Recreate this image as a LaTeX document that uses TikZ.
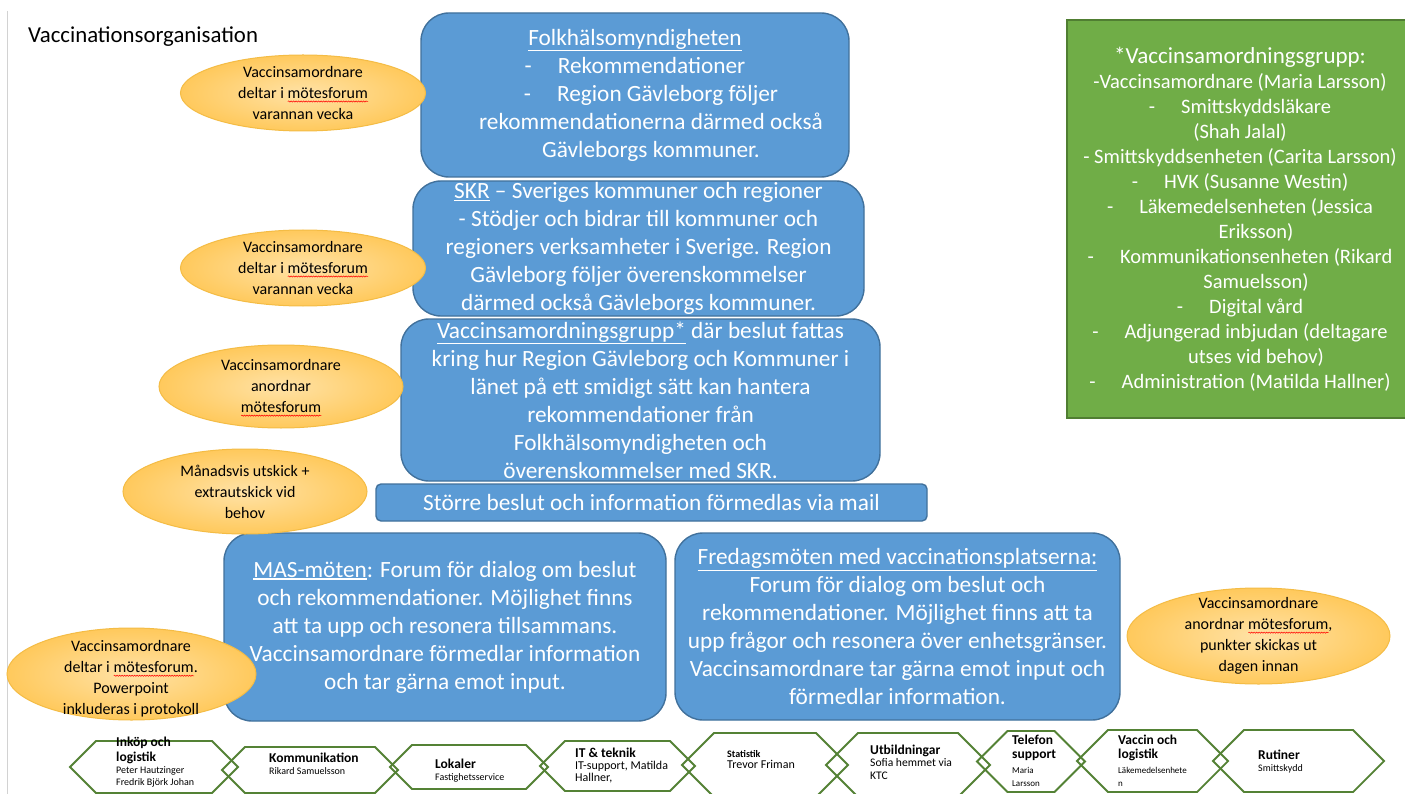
\documentclass[tikz,border=0pt]{standalone}
\usepackage{fontspec}
\setmainfont{Carlito}
\usepackage{tikz}
\usetikzlibrary{shapes}
\usetikzlibrary{positioning}
\usetikzlibrary{decorations.pathmorphing}
\usepackage{xcolor}

\definecolor{boxblue}{HTML}{5B9BD5}
\definecolor{boxedge}{HTML}{41719C}
\definecolor{grpgreen}{HTML}{70AD47}
\definecolor{grpedge}{HTML}{507E32}
\definecolor{hexgreen}{HTML}{548235}
\definecolor{bubin}{HTML}{FFE2A6}
\definecolor{bubout}{HTML}{FFC95C}
\definecolor{bubedge}{HTML}{F4BC45}

\newsavebox{\spellbox}
\newcommand{\spell}[1]{\sbox{\spellbox}{#1}\rlap{\tikz[x=1pt,y=1pt,baseline=0pt]\draw[red,line width=0.5pt,decorate,decoration={snake,amplitude=0.6pt,segment length=2.5pt}] (0pt,-3pt) -- (\the\wd\spellbox,-3pt);}\usebox{\spellbox}}
\newcommand{\undl}[1]{\vtop{\hbox{#1}\kern1pt\hrule height 1.3pt}}
\newcommand{\dashtab}{-\hspace{26pt}}
\newcommand{\hxt}{\fontsize{13.5}{15}\selectfont\bfseries}
\newcommand{\hxm}{\fontsize{10}{12}\selectfont\bfseries}
\newcommand{\hxs}[1][10]{\fontsize{#1}{12}\selectfont}
\newcommand{\hexa}[4]{\draw[hexline] (#1,{(#2+#4)/2}) -- ({#1+(#4-#2)/2},#2) -- ({#3-(#4-#2)/2},#2) -- (#3,{(#2+#4)/2}) -- ({#3-(#4-#2)/2},#4) -- ({#1+(#4-#2)/2},#4) -- cycle;}

\begin{document}
\begin{tikzpicture}[x=1pt,y=-1pt,
  bluebox/.style={draw=boxedge, line width=1.4pt, fill=boxblue, rounded corners=28pt, text=white, align=center, inner sep=0pt, font={\fontsize{23.3}{28}\selectfont}},
  grpbox/.style={draw=grpedge, line width=1.4pt, fill=grpgreen, text=white, align=center, inner sep=0pt, font={\fontsize{20.5}{25}\selectfont}},
  bubble/.style={ellipse, draw=bubedge, line width=1pt, inner color=bubin, outer color=bubout},
  bubtext/.style={align=center, inner sep=0pt, font={\fontsize{16}{21}\selectfont}},
  hexline/.style={draw=hexgreen, line width=1.8pt, line join=miter},
  hextext/.style={anchor=north west, align=left, inner sep=0pt, font={\fontsize{10}{14}\selectfont}}]
\useasboundingbox (0,0) rectangle (1405,794);
\fill[white] (0,0) rectangle (1405,794);
\clip (0,0) rectangle (1405,794);
\draw[gray!35, line width=1pt] (7,11) -- (7,794);

\node[anchor=base west, inner sep=0pt, font={\fontsize{22.8}{27}\selectfont}] (title) at (28,43) {Vaccinationsorganisation};

% blue boxes
\node[bluebox, minimum width=428pt, minimum height=164pt] (fhm) at (635,95) {\undl{Folkhälsomyndigheten}\\
\dashtab Rekommendationer\\
\hspace*{32pt}\dashtab Region Gävleborg följer\\
\hspace*{32pt}rekommendationerna därmed också\\
\hspace*{32pt}Gävleborgs kommuner.};
\node[bluebox, minimum width=451pt, minimum height=135pt] (skr) at (638.5,248.5) {\undl{SKR} – Sveriges kommuner och regioner\\
- Stödjer och bidrar till kommuner och\\
regioners verksamheter i Sverige. Region\\
Gävleborg följer överenskommelser\\
därmed också Gävleborgs kommuner.};
\node[bluebox, minimum width=479pt, minimum height=162pt] (grupp) at (640.5,400) {\undl{Vaccinsamordningsgrupp*} där beslut fattas\\
kring hur Region Gävleborg och Kommuner i\\
länet på ett smidigt sätt kan hantera\\
rekommendationer från\\
Folkhälsomyndigheten och\\
överenskommelser med SKR.};
\node[bluebox, rounded corners=5pt, minimum width=551pt, minimum height=37pt] (mail) at (651.5,502.5) {Större beslut och information förmedlas via mail};
\node[bluebox, minimum width=442pt, minimum height=188pt] (mas) at (445,627) {\undl{MAS-möten}: Forum för dialog om beslut\\
och rekommendationer. Möjlighet finns\\
att ta upp och resonera tillsammans.\\
Vaccinsamordnare förmedlar information\\
och tar gärna emot input.};
\node[bluebox, minimum width=445pt, minimum height=187pt] (fredag) at (897.5,626.5) {\undl{Fredagsmöten med vaccinationsplatserna:}\\
Forum för dialog om beslut och\\
rekommendationer. Möjlighet finns att ta\\
upp frågor och resonera över enhetsgränser.\\
Vaccinsamordnare tar gärna emot input och\\
förmedlar information.};

% green group
\node[grpbox, minimum width=346pt, minimum height=398pt] (grp) at (1240,219) {{\fontsize{23}{25}\selectfont *Vaccinsamordningsgrupp:}\\
-Vaccinsamordnare (Maria Larsson)\\
\dashtab Smittskyddsläkare\\
(Shah Jalal)\\
- Smittskyddsenheten (Carita Larsson)\\
\dashtab HVK (Susanne Westin)\\
\dashtab Läkemedelsenheten (Jessica\\
\hspace*{32pt}Eriksson)\\
\dashtab Kommunikationsenheten (Rikard\\
\hspace*{32pt}Samuelsson)\\
\dashtab Digital vård\\
\dashtab Adjungerad inbjudan (deltagare\\
\hspace*{32pt}utses vid behov)\\
\dashtab Administration (Matilda Hallner)};

% ellipses
\node[bubble, minimum width=245pt, minimum height=76pt] (b1) at (303,93) {};
\node[bubtext] (t1) at (b1) {Vaccinsamordnare\\ deltar i \spell{mötesforum}\\ varannan vecka};
\node[bubble, minimum width=245pt, minimum height=76pt] (b2) at (303,268) {};
\node[bubtext] (t2) at (b2) {Vaccinsamordnare\\ deltar i \spell{mötesforum}\\ varannan vecka};
\node[bubble, minimum width=244pt, minimum height=83pt] (b3) at (281,386.5) {};
\node[bubtext] (t3) at (281,388) {Vaccinsamordnare\\ anordnar\\ \spell{mötesforum}};
\node[bubble, minimum width=244pt, minimum height=85pt] (b4) at (245,491.5) {};
\node[bubtext] (t4) at (b4) {Månadsvis utskick +\\ extrautskick vid\\ behov};
\node[bubble, minimum width=249pt, minimum height=92pt] (b5) at (131.5,674) {};
\node[bubtext] (t5) at (131,679) {Vaccinsamordnare\\ deltar i \spell{mötesforum}.\\ Powerpoint\\ inkluderas i protokoll};
\node[bubble, minimum width=263pt, minimum height=96pt] (b6) at (1258.5,636) {};
\node[bubtext] (t6) at (b6) {Vaccinsamordnare\\ anordnar \spell{mötesforum},\\ punkter skickas ut\\ dagen innan};

% hexagons
\hexa{70}{741}{238}{793}
\hexa{222}{747}{398}{793}
\hexa{390}{745}{548}{789}
\hexa{540}{741}{695}{791}
\hexa{682}{733}{848}{797}
\hexa{826}{733}{990}{797}
\hexa{977}{731}{1085}{792}
\hexa{1077}{730}{1228}{792}
\hexa{1213}{730}{1384}{792}

\node[hextext] (inkop) at (116,737) {\hxt Inköp och\\[1pt] \hxt logistik\\[-2pt] \hxs Peter Hautzinger\\[-2pt] \hxs Fredrik Björk Johan};
\node[hextext] (komm) at (269,753) {\hxt Kommunikation\\[-2pt] \hxs Rikard Samuelsson};
\node[hextext] (lok) at (435,759) {\hxt Lokaler\\[-2pt] \hxs Fastighetsservice};
\node[hextext] (it) at (575,748) {\hxt IT \& teknik\\[-2pt] \hxs[12]IT-support, Matilda\\[-2pt] \hxs[12]Hallner,};
\node[hextext] (stat) at (727,750) {\hxm Statistik\\[-3pt] \hxs[12]Trevor Friman};
\node[hextext] (utb) at (870,745) {\hxt Utbildningar\\[-2pt] \hxs[11.6]Sofia hemmet via\\[-1pt] \hxs[11.6]KTC};
\node[hextext] (tel) at (1012,735) {\hxt Telefon\\[0pt] \hxt support\\[1pt] \hxs[9]Maria\\[-1pt] \hxs[9]Larsson};
\node[hextext] (vacc) at (1118,735) {\hxt Vaccin och\\[0pt] \hxt logistik\\[1pt] \hxs[9]Läkemedelsenhete\\[-1pt] \hxs[9]n};
\node[hextext] (rut) at (1258,750) {\hxt Rutiner\\[-2pt] \hxs Smittskydd};

\end{tikzpicture}
\end{document}
